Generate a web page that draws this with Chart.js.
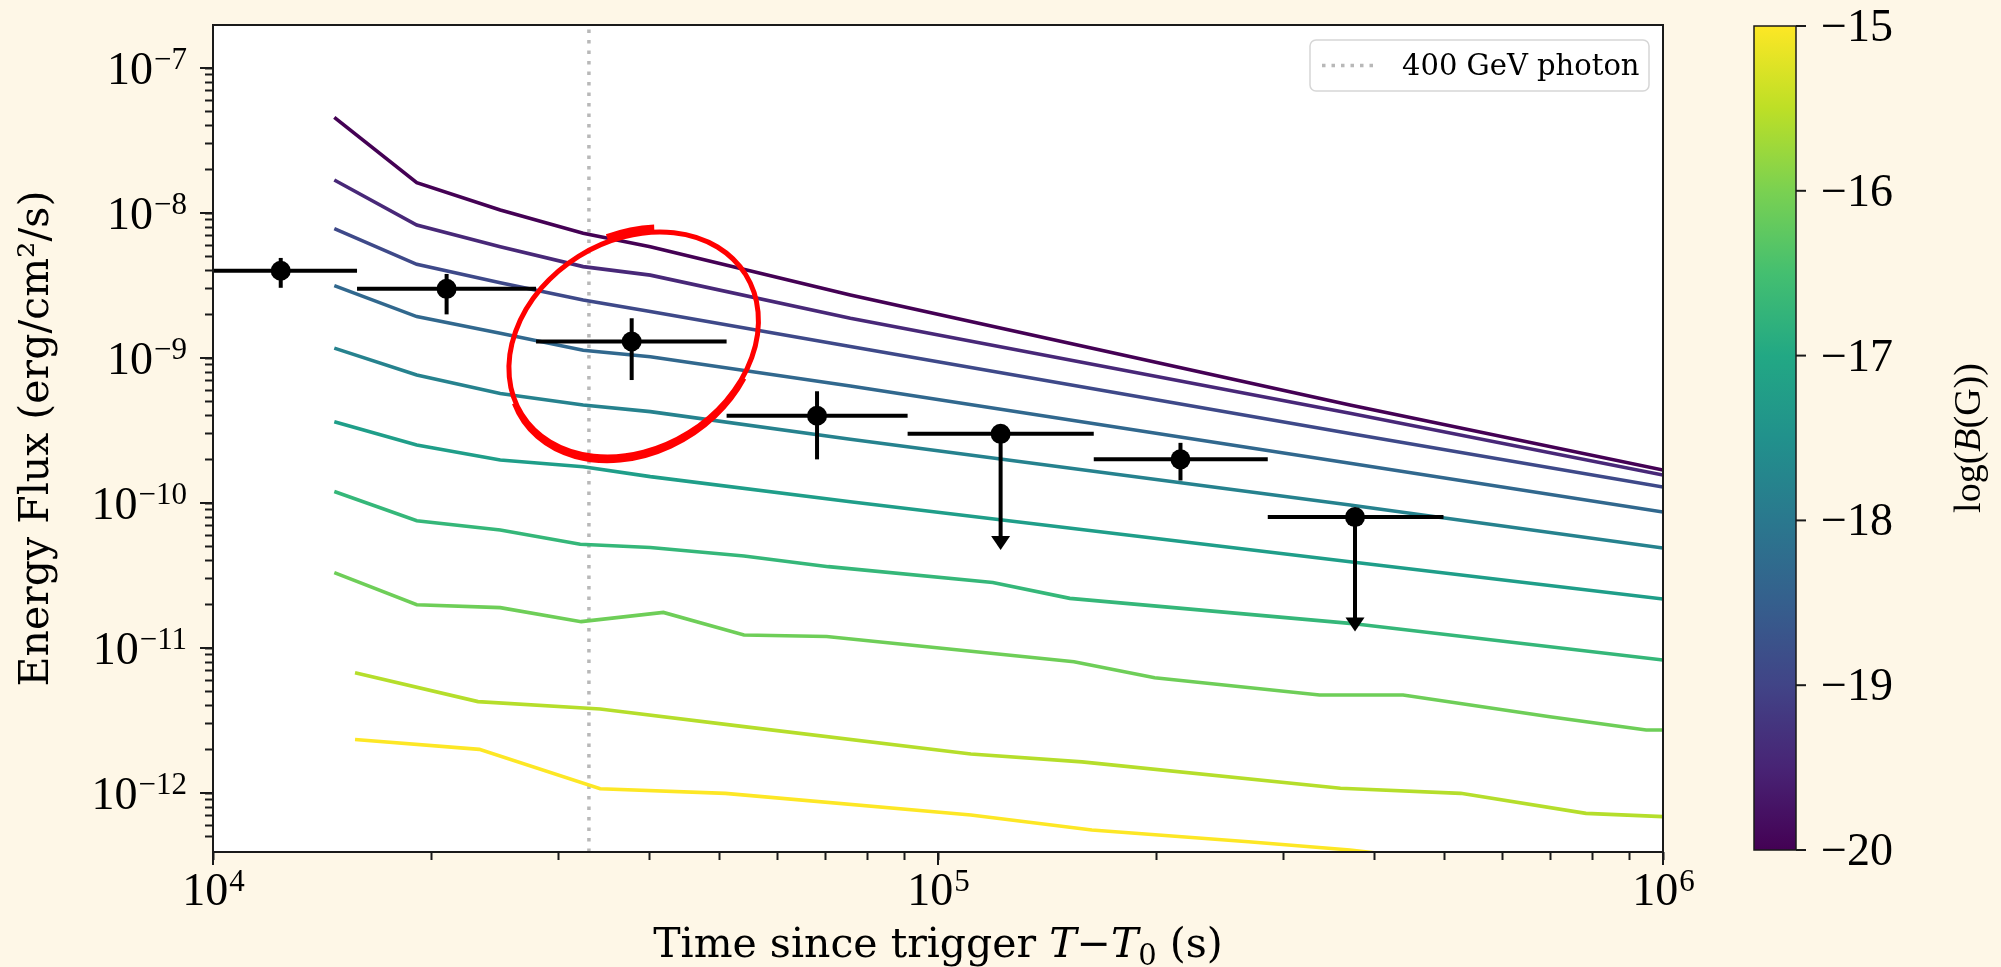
<!DOCTYPE html>
<html>
<head>
<meta charset="utf-8">
<script src="https://cdn.jsdelivr.net/npm/chart.js@4.4.1/dist/chart.umd.min.js"></script>
<style>
  html, body { margin: 0; padding: 0; background: #fef7e7; overflow: hidden; }
  canvas { display: block; }
</style>
</head>
<body>
<canvas id="fluxChart" width="2001" height="967" style="width:2001px;height:967px"></canvas>
<script>
// model light curves, one per magnetic field value log10(B/G)
const logB = [-20, -19.44, -18.89, -18.33, -17.78, -17.22, -16.67, -16.11, -15.56, -15];
const lineColors = ["#440154", "#482878", "#3e4989", "#31688e", "#26828e",
                    "#1f9e89", "#35b779", "#6ece58", "#b5de2b", "#fde725"];

// times (s) where the upper six curves bend
const timeUpper = [1.47e4, 1.91e4, 2.49e4, 3.24e4, 4.01e4, 7.57e4, 3.70e5, 1.0e6];
const flux1 = [4.57e-8, 1.62e-8, 1.05e-8, 7.24e-9, 5.86e-9, 2.72e-9, 4.74e-10, 1.69e-10];
const flux2 = [1.69e-8, 8.26e-9, 5.86e-9, 4.27e-9, 3.73e-9, 1.88e-9, 4.16e-10, 1.56e-10];
const flux3 = [7.80e-9, 4.43e-9, 3.31e-9, 2.51e-9, 2.09e-9, 1.20e-9, 3.02e-10, 1.29e-10];
const flux4 = [3.16e-9, 1.93e-9, 1.48e-9, 1.13e-9, 1.02e-9, 6.41e-10, 1.88e-10, 8.67e-11];
const flux5 = [1.17e-9, 7.64e-10, 5.70e-10, 4.74e-10, 4.27e-10, 2.75e-10, 9.68e-11, 4.90e-11];
const flux6 = [3.64e-10, 2.51e-10, 1.98e-10, 1.78e-10, 1.52e-10, 1.02e-10, 3.94e-11, 2.18e-11];

const time7 = [1.47e4, 1.91e4, 2.49e4, 3.21e4, 4.01e4, 5.40e4, 7.06e4, 1.19e5, 1.52e5, 3.70e5, 1.0e6];
const flux7 = [1.20e-10, 7.55e-11, 6.52e-11, 5.19e-11, 4.94e-11, 4.31e-11, 3.64e-11, 2.83e-11, 2.20e-11, 1.48e-11, 8.26e-12];

const time8 = [1.47e4, 1.91e4, 2.49e4, 3.22e4, 4.18e4, 5.40e4, 7.02e4, 1.54e5, 1.99e5, 3.36e5, 4.38e5, 6.98e5, 9.48e5, 1.0e6];
const flux8 = [3.31e-11, 1.99e-11, 1.90e-11, 1.52e-11, 1.76e-11, 1.23e-11, 1.20e-11, 8.05e-12, 6.24e-12, 4.74e-12, 4.74e-12, 3.36e-12, 2.72e-12, 2.72e-12];

const time9 = [1.57e4, 2.32e4, 3.42e4, 5.40e4, 1.11e5, 1.58e5, 3.59e5, 5.26e5, 7.83e5, 1.0e6];
const flux9 = [6.76e-12, 4.27e-12, 3.80e-12, 2.87e-12, 1.86e-12, 1.64e-12, 1.08e-12, 9.95e-13, 7.24e-13, 6.87e-13];

const time10 = [1.57e4, 2.33e4, 3.42e4, 5.09e4, 1.11e5, 1.63e5, 2.68e5, 3.70e5, 5.26e5];
const flux10 = [2.34e-12, 2.00e-12, 1.07e-12, 9.95e-13, 7.05e-13, 5.56e-13, 4.61e-13, 4.05e-13, 3.30e-13];

// measured energy flux, bins in time
const obsT    = [1.24e4, 2.10e4, 3.78e4, 6.81e4, 1.22e5, 2.16e5, 3.76e5];
const obsTlo  = [9.0e3, 1.58e4, 2.79e4, 5.11e4, 9.08e4, 1.64e5, 2.85e5];
const obsThi  = [1.58e4, 2.79e4, 5.11e4, 9.08e4, 1.64e5, 2.85e5, 4.98e5];
const obsF    = [4.0e-9, 3.0e-9, 1.3e-9, 4.0e-10, 3.0e-10, 2.0e-10, 8.0e-11];
const obsFlo  = [3.05e-9, 2.0e-9, 7.05e-10, 2.0e-10, 4.74e-11, 1.43e-10, 1.30e-11];
const obsFhi  = [4.9e-9, 3.8e-9, 1.88e-9, 5.9e-10, null, 2.6e-10, null];
const upperLimit = [false, false, false, false, true, false, true];

const photonTime = 3.30e4;   // 400 GeV photon
const xMin = 1e4, xMax = 1e6;
const yMin = 3.92e-13, yMax = 1.98e-7;

// colorbar
const cbMin = -20, cbMax = -15;
const cbTicks = [-20, -19, -18, -17, -16, -15];
const viridisStops = ["#440154", "#482475", "#414487", "#355f8d", "#2a788e", "#21918c",
                      "#22a884", "#44bf70", "#7ad151", "#bddf26", "#fde725"];

const SERIF = '"DejaVu Serif", serif';
const MATH = '"Liberation Serif", "DejaVu Serif", serif';

const curveTimes = [timeUpper, timeUpper, timeUpper, timeUpper, timeUpper, timeUpper, time7, time8, time9, time10];
const curveFlux = [flux1, flux2, flux3, flux4, flux5, flux6, flux7, flux8, flux9, flux10];

const datasets = [];
datasets.push({
  label: 'data',
  data: obsT.map((t, i) => ({ x: t, y: obsF[i] })),
  showLine: false,
  pointRadius: 10,
  pointBackgroundColor: '#000',
  pointBorderWidth: 0
});
curveFlux.forEach((f, k) => {
  datasets.push({
    label: 'log B = ' + logB[k],
    data: f.map((v, i) => ({ x: curveTimes[k][i], y: v })),
    showLine: true,
    borderColor: lineColors[k],
    borderWidth: 3.6,
    pointRadius: 0,
    tension: 0,
    fill: false
  });
});
datasets.push({
  label: '400 GeV photon',
  data: [{ x: photonTime, y: yMin }, { x: photonTime, y: yMax }],
  showLine: true,
  borderColor: '#b8b8b8',
  borderWidth: 3.5,
  borderDash: [3.5, 7],
  pointRadius: 0
});

// keep only 1..9 x 10^n ticks
function keepDecadeTicks(scale) {
  scale.ticks = scale.ticks.filter(t => {
    const e = Math.floor(Math.log10(t.value) + 1e-9);
    const m = t.value / Math.pow(10, e);
    const r = Math.round(m);
    return Math.abs(m - r) < 1e-6 && r >= 1 && r <= 9;
  });
}
function isDecade(v) {
  const e = Math.round(Math.log10(v));
  return Math.abs(v / Math.pow(10, e) - 1) < 1e-6;
}
function expText(v) {
  const e = Math.round(Math.log10(v));
  return (e < 0 ? '\u2212' : '') + Math.abs(e);
}

const decor = {
  id: 'decor',
  beforeDraw(chart) {
    const { ctx, chartArea: a } = chart;
    ctx.save();
    ctx.fillStyle = '#fef7e7';
    ctx.fillRect(0, 0, chart.width, chart.height);
    ctx.fillStyle = '#ffffff';
    ctx.fillRect(a.left, a.top, a.right - a.left, a.bottom - a.top);
    ctx.restore();
  },
  afterDatasetsDraw(chart) {
    const { ctx, chartArea: a } = chart;
    const xs = chart.scales.x, ys = chart.scales.y;

    // error bars and upper limits
    ctx.save();
    ctx.beginPath();
    ctx.rect(a.left, a.top, a.right - a.left, a.bottom - a.top);
    ctx.clip();
    ctx.strokeStyle = '#000';
    ctx.fillStyle = '#000';
    ctx.lineWidth = 4;
    obsT.forEach((t, i) => {
      const px = xs.getPixelForValue(t);
      const py = ys.getPixelForValue(obsF[i]);
      ctx.beginPath();
      ctx.moveTo(xs.getPixelForValue(obsTlo[i]), py);
      ctx.lineTo(xs.getPixelForValue(obsThi[i]), py);
      ctx.stroke();
      const yLo = ys.getPixelForValue(obsFlo[i]);
      if (upperLimit[i]) {
        ctx.beginPath();
        ctx.moveTo(px, py);
        ctx.lineTo(px, yLo - 12);
        ctx.stroke();
        ctx.beginPath();
        ctx.moveTo(px - 9.5, yLo - 14);
        ctx.lineTo(px + 9.5, yLo - 14);
        ctx.lineTo(px, yLo);
        ctx.closePath();
        ctx.fill();
      } else {
        ctx.beginPath();
        ctx.moveTo(px, ys.getPixelForValue(obsFhi[i]));
        ctx.lineTo(px, yLo);
        ctx.stroke();
      }
    });
    ctx.restore();

    // frame
    ctx.save();
    ctx.strokeStyle = '#1a1a1a';
    ctx.lineWidth = 2;
    ctx.strokeRect(a.left, a.top, a.right - a.left, a.bottom - a.top);

    // longer major ticks
    ctx.beginPath();
    xs.ticks.forEach(t => {
      if (!isDecade(t.value)) return;
      const px = xs.getPixelForValue(t.value);
      ctx.moveTo(px, a.bottom);
      ctx.lineTo(px, a.bottom + 13);
    });
    ys.ticks.forEach(t => {
      if (!isDecade(t.value)) return;
      const py = ys.getPixelForValue(t.value);
      ctx.moveTo(a.left, py);
      ctx.lineTo(a.left - 13, py);
    });
    ctx.stroke();

    // tick labels 10^n
    ctx.fillStyle = '#000';
    ctx.textBaseline = 'alphabetic';
    ctx.textAlign = 'left';
    xs.ticks.forEach(t => {
      if (!isDecade(t.value)) return;
      const px = xs.getPixelForValue(t.value);
      const ex = expText(t.value);
      ctx.font = '46px ' + MATH;
      const wb = ctx.measureText('10').width;
      ctx.font = '31px ' + MATH;
      const we = ctx.measureText(ex).width;
      const x0 = px - (wb + we) / 2;
      ctx.font = '46px ' + MATH;
      ctx.fillText('10', x0, a.bottom + 53);
      ctx.font = '31px ' + MATH;
      ctx.fillText(ex, x0 + wb + 1, a.bottom + 39);
    });
    ys.ticks.forEach(t => {
      if (!isDecade(t.value)) return;
      const py = ys.getPixelForValue(t.value);
      const ex = expText(t.value);
      ctx.font = '31px ' + MATH;
      const we = ctx.measureText(ex).width;
      ctx.font = '46px ' + MATH;
      const wb = ctx.measureText('10').width;
      const right = a.left - 26;
      ctx.fillText('10', right - we - wb - 1, py + 16);
      ctx.font = '31px ' + MATH;
      ctx.fillText(ex, right - we, py + 1);
    });

    // x axis title with math part
    const parts = [
      { s: 'Time since trigger ', f: '41px ' + SERIF, dy: 0 },
      { s: 'T', f: 'italic 41px ' + SERIF, dy: 0 },
      { s: '\u2212', f: '41px ' + SERIF, dy: 0 },
      { s: 'T', f: 'italic 41px ' + SERIF, dy: 0 },
      { s: '0', f: '29px ' + SERIF, dy: 8 },
      { s: ' (s)', f: '41px ' + SERIF, dy: 0 }
    ];
    let total = 0;
    parts.forEach(p => { ctx.font = p.f; p.w = ctx.measureText(p.s).width; total += p.w; });
    let cx = (a.left + a.right) / 2 - total / 2;
    parts.forEach(p => { ctx.font = p.f; ctx.fillText(p.s, cx, 957 + p.dy); cx += p.w; });

    // legend
    const lx = a.right - 353, ly = a.top + 15, lw = 339, lh = 51, r = 6;
    ctx.beginPath();
    ctx.moveTo(lx + r, ly);
    ctx.arcTo(lx + lw, ly, lx + lw, ly + lh, r);
    ctx.arcTo(lx + lw, ly + lh, lx, ly + lh, r);
    ctx.arcTo(lx, ly + lh, lx, ly, r);
    ctx.arcTo(lx, ly, lx + lw, ly, r);
    ctx.closePath();
    ctx.fillStyle = 'rgba(255,255,255,0.85)';
    ctx.fill();
    ctx.strokeStyle = '#d6d6d6';
    ctx.lineWidth = 1.5;
    ctx.stroke();
    ctx.beginPath();
    ctx.setLineDash([3.5, 6]);
    ctx.strokeStyle = '#b8b8b8';
    ctx.lineWidth = 3.5;
    ctx.moveTo(lx + 12, ly + lh / 2);
    ctx.lineTo(lx + 64, ly + lh / 2);
    ctx.stroke();
    ctx.setLineDash([]);
    ctx.fillStyle = '#000';
    ctx.font = '29px ' + SERIF;
    ctx.fillText('400 GeV photon', lx + 92, ly + 35);
    ctx.restore();

    // colorbar
    ctx.save();
    const cbL = 1754, cbR = 1796, cbT = a.top + 1, cbB = a.bottom - 2;
    const grad = ctx.createLinearGradient(0, cbB, 0, cbT);
    viridisStops.forEach((c, i) => grad.addColorStop(i / (viridisStops.length - 1), c));
    ctx.fillStyle = grad;
    ctx.fillRect(cbL, cbT, cbR - cbL, cbB - cbT);
    ctx.strokeStyle = '#1a1a1a';
    ctx.lineWidth = 1.5;
    ctx.strokeRect(cbL, cbT, cbR - cbL, cbB - cbT);
    ctx.fillStyle = '#000';
    ctx.lineWidth = 2;
    cbTicks.forEach(v => {
      const py = cbB - (v - cbMin) / (cbMax - cbMin) * (cbB - cbT);
      ctx.beginPath();
      ctx.moveTo(cbR, py);
      ctx.lineTo(cbR + 10, py);
      ctx.stroke();
      ctx.font = '46px ' + MATH;
      ctx.fillText('\u2212' + Math.abs(v), 1821, py + 15);
    });
    // colorbar label, rotated
    ctx.translate(1970, (cbT + cbB) / 2);
    ctx.rotate(-Math.PI / 2);
    const lab = [
      { s: 'log(', f: '38px ' + MATH },
      { s: 'B', f: 'italic 38px ' + MATH },
      { s: '(G))', f: '38px ' + MATH }
    ];
    let lt = 0;
    lab.forEach(p => { ctx.font = p.f; p.w = ctx.measureText(p.s).width; lt += p.w; });
    let lx2 = -lt / 2;
    ctx.textBaseline = 'middle';
    lab.forEach(p => { ctx.font = p.f; ctx.fillText(p.s, lx2, 0); lx2 += p.w; });
    ctx.restore();

    // red hand-drawn ellipse around the third point
    ctx.save();
    const ex0 = xs.getPixelForValue(obsT[2]) + 2;
    const ey0 = ys.getPixelForValue(obsF[2]) + 3;
    ctx.translate(ex0, ey0);
    ctx.rotate(-32 * Math.PI / 180);
    ctx.strokeStyle = '#ff0000';
    ctx.lineWidth = 5;
    ctx.beginPath();
    ctx.ellipse(0, 0, 132, 104, 0, 0, 2 * Math.PI);
    ctx.stroke();
    ctx.beginPath();
    ctx.ellipse(-2, 3, 132, 104, 0, 0.3 * Math.PI, 1.05 * Math.PI);
    ctx.stroke();
    ctx.beginPath();
    ctx.ellipse(1, -3, 133, 105, 0, 1.58 * Math.PI, 1.7 * Math.PI);
    ctx.lineWidth = 7;
    ctx.stroke();
    ctx.restore();
  }
};

Chart.defaults.font.family = SERIF;

new Chart(document.getElementById('fluxChart').getContext('2d'), {
  type: 'scatter',
  data: { datasets: datasets },
  options: {
    responsive: false,
    animation: false,
    devicePixelRatio: 1,
    layout: { padding: { left: 0, top: 25, right: 338, bottom: 0 } },
    plugins: { legend: { display: false }, tooltip: { enabled: false } },
    scales: {
      x: {
        type: 'logarithmic',
        min: xMin,
        max: xMax,
        position: 'bottom',
        ticks: { display: false },
        grid: { drawOnChartArea: false, tickLength: 8, tickColor: '#1a1a1a', tickWidth: 2 },
        border: { display: false },
        afterBuildTicks: keepDecadeTicks,
        afterFit: s => { s.height = 115; }
      },
      y: {
        type: 'logarithmic',
        min: yMin,
        max: yMax,
        position: 'left',
        ticks: { display: false },
        grid: { drawOnChartArea: false, tickLength: 8, tickColor: '#1a1a1a', tickWidth: 2 },
        border: { display: false },
        title: {
          display: true,
          text: 'Energy Flux (erg/cm\u00b2/s)',
          color: '#000',
          font: { family: SERIF, size: 41 },
          padding: { top: 13, bottom: 0 }
        },
        afterBuildTicks: keepDecadeTicks,
        afterFit: s => { s.width = 213; }
      }
    }
  },
  plugins: [decor]
});
</script>
</body>
</html>
